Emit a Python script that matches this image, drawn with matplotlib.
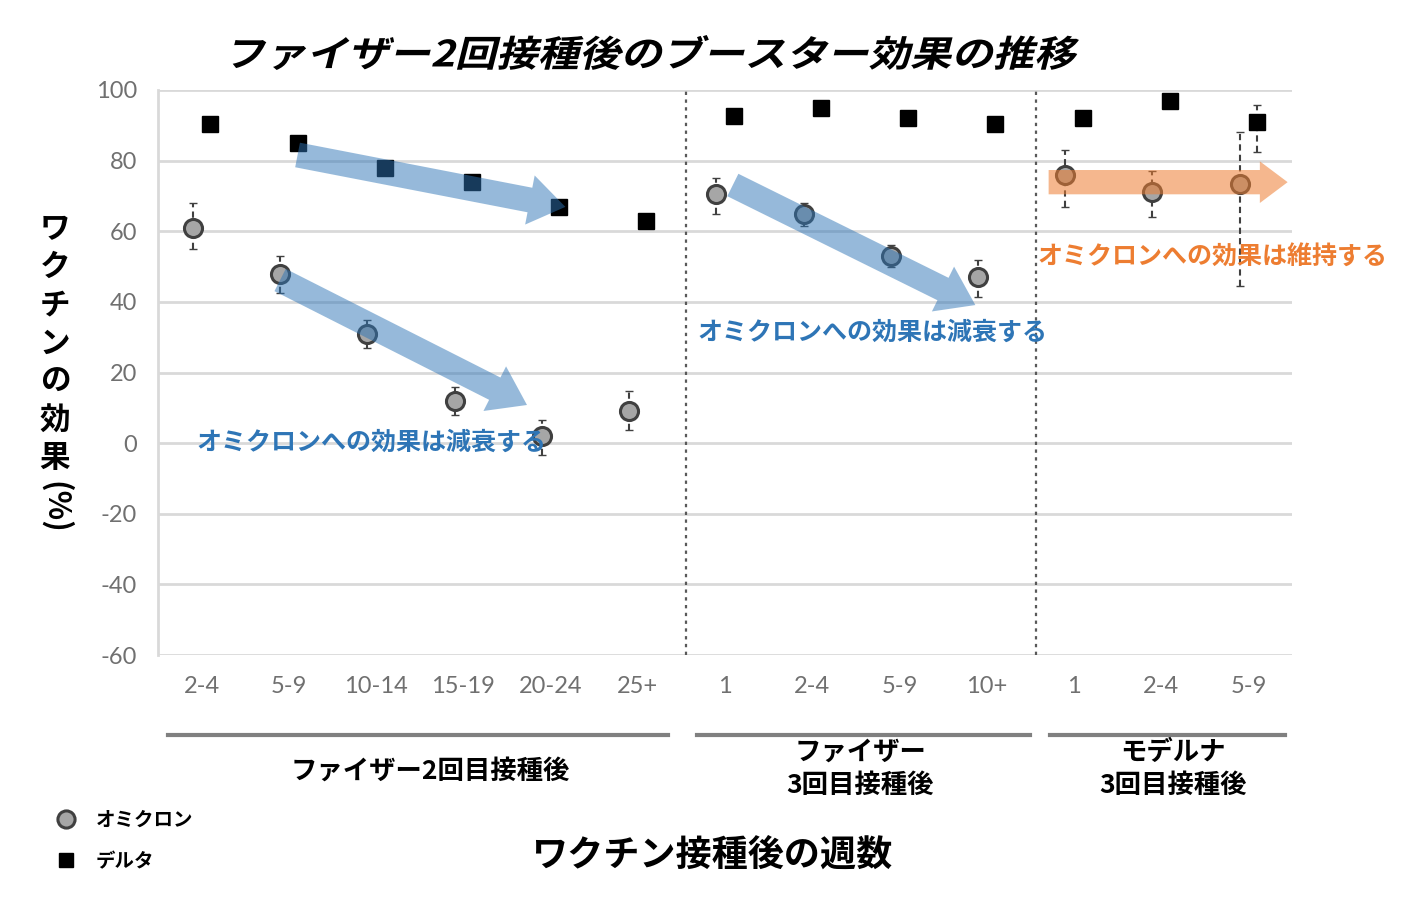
import numpy as np
import matplotlib
matplotlib.use("Agg")
import matplotlib.pyplot as plt
from matplotlib.lines import Line2D
from matplotlib.textpath import TextPath
from matplotlib.patches import PathPatch
from matplotlib.font_manager import FontProperties
from matplotlib.transforms import Affine2D, IdentityTransform

plt.rcParams['font.family'] = ['Noto Sans CJK JP', 'DejaVu Sans']
plt.rcParams['axes.unicode_minus'] = False

# ---- data ----
categories = ['2-4', '5-9', '10-14', '15-19', '20-24', '25+',
              '1', '2-4', '5-9', '10+',
              '1', '2-4', '5-9']
omicron = [61, 48, 31, 12, 2, 9, 70.5, 65, 53, 47, 76, 71, 73.5]
omicron_lo = [55, 42.5, 27, 8, -3.5, 3.7, 65, 61.5, 50, 41.5, 67, 64, 44.5]
omicron_hi = [68, 53, 35, 16, 6.5, 14.7, 75, 68, 56, 52, 83, 77, 88]
delta = [90.5, 85, 78, 74, 67, 63, 92.5, 95, 92, 90.5, 92, 97, 91]
delta_lo = [90.5, 85, 78, 74, 67, 63, 92.5, 95, 92, 90.5, 92, 97, 82.5]
delta_hi = [90.5, 85, 78, 74, 67, 63, 92.5, 95, 92, 90.5, 92, 97, 95.8]
groups = ['ファイザー2回目接種後', 'ファイザー\n3回目接種後', 'モデルナ\n3回目接種後']

title = 'ファイザー2回接種後のブースター効果の推移'
ylabel = 'ワクチンの効果'
xlabel = 'ワクチン接種後の週数'
note_down = 'オミクロンへの効果は減衰する'
note_keep = 'オミクロンへの効果は維持する'

W, H = 1404, 911
fig = plt.figure(figsize=(W / 100, H / 100), dpi=100)


def fx(px):
    return px / W


def fy(py):
    return 1 - py / H


ax = fig.add_axes([fx(158), fy(655), fx(1292) - fx(158), fy(90) - fy(655)])
x = np.arange(len(categories))
off = 0.1

om = np.array(omicron)
de = np.array(delta)
eb1 = ax.errorbar(x - off, om, yerr=[om - np.array(omicron_lo), np.array(omicron_hi) - om],
                  fmt='none', ecolor='#404040', elinewidth=1.5, capsize=3, zorder=2)
eb1[2][0].set_linestyle((0, (3, 2)))
eb2 = ax.errorbar(x + off, de, yerr=[de - np.array(delta_lo), np.array(delta_hi) - de],
                  fmt='none', ecolor='#404040', elinewidth=1.5, capsize=3, zorder=2)
eb2[2][0].set_linestyle((0, (3, 2)))
h_om, = ax.plot(x - off, om, 'o', ms=13, mfc='#a6a6a6', mec='#404040', mew=2.2,
                ls='none', zorder=3, label='オミクロン')
h_de, = ax.plot(x + off, de, 's', ms=11, color='black', ls='none', zorder=3,
                label='デルタ')

ax.set_xlim(-0.5, len(categories) - 0.5)
ax.set_ylim(-60, 100)
ax.set_yticks(np.arange(-60, 101, 20))
ax.set_xticks(x)
ax.set_xticklabels(categories)
ax.grid(axis='y', color='#d9d9d9', lw=2)
ax.set_axisbelow(True)
for s in ['top', 'right', 'bottom']:
    ax.spines[s].set_visible(False)
ax.spines['left'].set_color('#d9d9d9')
ax.spines['left'].set_linewidth(2)
ax.tick_params(length=0, colors='#707070', labelsize=17, pad=15)
for lab in ax.get_xticklabels() + ax.get_yticklabels():
    lab.set_family(['Lato', 'DejaVu Sans'])

# section dividers
for xv in [5.55, 9.57]:
    ax.axvline(xv, color='#595959', ls=(0, (1.5, 2)), lw=1.6, zorder=1)


# arrows
def arrow(tail, tip, color, alpha, hw=3.6, tw=1.8, hl=2.6):
    ax.annotate('', xy=tip, xytext=tail,
                arrowprops=dict(arrowstyle=f'simple,head_length={hl},head_width={hw},tail_width={tw}',
                                mutation_scale=10, fc=color, ec='none', alpha=alpha,
                                shrinkA=0, shrinkB=0), zorder=4)


blue = '#2e75b6'
orange = '#ed7d31'
arrow((1.1, 81.6), (4.17, 66.9), blue, 0.5)
arrow((0.9, 46.2), (3.73, 10.8), blue, 0.5)
arrow((6.09, 73.1), (8.87, 39.1), blue, 0.5)
arrow((9.71, 73.9), (12.45, 73.9), orange, 0.55, hw=3.0, tw=1.75, hl=2.0)

fig.text(fx(196), fy(443), note_down, color=blue, fontsize=18, weight='bold', va='center')
fig.text(fx(697), fy(333), note_down, color=blue, fontsize=18, weight='bold', va='center')
fig.text(fx(1037), fy(258), note_keep, color=orange, fontsize=18, weight='bold', va='center')

# group labels with underline bars
for (x0, x1), txt, cx, cy in zip([(168, 668), (697, 1030), (1050, 1285)], groups,
                                 [430, 860, 1173], [771, 769, 769]):
    fig.add_artist(Line2D([fx(x0), fx(x1)], [fy(735), fy(735)], color='#808080', lw=3,
                          transform=fig.transFigure))
    fig.text(fx(cx), fy(cy), txt, ha='center', va='center', fontsize=19, weight='bold',
             linespacing=1.3)

fig.text(fx(712), fy(855), xlabel, ha='center', va='center', fontsize=26, weight='bold')

# vertical y label
fig.text(fx(55), fy(213), '\n'.join(ylabel), ha='center', va='top', fontsize=22,
         weight='bold', linespacing=1.25)
fig.text(fx(55), fy(507), '(%)', ha='center', va='center', fontsize=22, weight='bold',
         rotation=-90)

# legend
ax.legend(handles=[h_om, h_de], loc='center left', bbox_to_anchor=(fx(47), fy(841)),
          bbox_transform=fig.transFigure, frameon=False, borderpad=0,
          handlelength=1, handletextpad=1.0, labelspacing=1.15, markerscale=0.95,
          prop=dict(family=['Noto Sans CJK JP', 'DejaVu Sans'], weight='bold', size=14))

# italic title drawn as a sheared text path
fp = FontProperties(family='Noto Sans CJK JP', weight='bold')
tp = TextPath((0, 0), title, size=36, prop=fp)
bb = tp.get_extents()
skew = 14
th = 35
sx = (854 - th * np.tan(np.radians(skew))) / bb.width
sy = th / bb.height
tr = Affine2D().translate(-bb.x0, -bb.y0).scale(sx, sy).skew_deg(skew, 0).translate(228, H - 70)
fig.add_artist(PathPatch(tr.transform_path(tp), fc='black', ec='none',
                         transform=IdentityTransform()))

fig.savefig('out.png', dpi=100)
